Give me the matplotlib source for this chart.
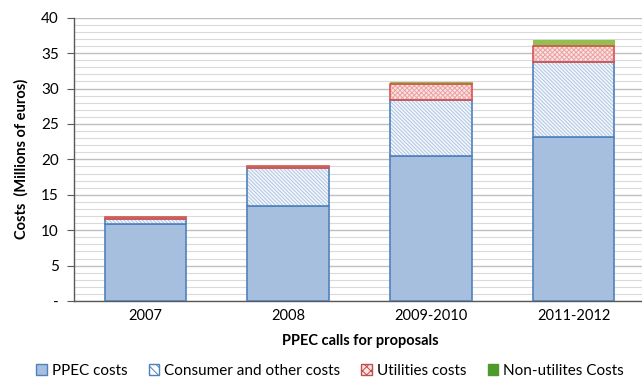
import matplotlib
matplotlib.use("Agg")
import matplotlib.pyplot as plt
from matplotlib.patches import Patch
import numpy as np

categories = ["2007", "2008", "2009-2010", "2011-2012"]
ppec = [10.9, 13.4, 20.5, 23.1]
consumer = [0.7, 5.4, 7.9, 10.6]
utilities = [0.2, 0.2, 2.2, 2.3]
non_utilities = [0.0, 0.0, 0.3, 0.8]
series_names = ["PPEC costs", "Consumer and other costs", "Utilities costs", "Non-utilites Costs"]
ytick_vals = [0, 5, 10, 15, 20, 25, 30, 35, 40]
ytick_labels = ["-", "5", "10", "15", "20", "25", "30", "35", "40"]

plt.rcParams['font.family'] = ['Lato', 'DejaVu Sans']
plt.rcParams['hatch.linewidth'] = 0.7

fig = plt.figure(figsize=(6.42, 3.86), dpi=100)
ax = fig.add_axes([74/642, 85/386, 571/642, 283.3/386])

x = np.arange(len(categories))
w = 0.57
blue_edge = "#4F81BD"
red_edge = "#D9534F"

b0 = np.zeros(len(x))
ax.bar(x, ppec, w, bottom=b0, color="#A7BFDE", edgecolor=blue_edge, linewidth=1.2, zorder=3)
b1 = b0 + np.array(ppec)
ax.bar(x, consumer, w, bottom=b1, color="#F4F7FB", edgecolor="#AFC5E2", hatch="\\" * 9, linewidth=0, zorder=3)
ax.bar(x, consumer, w, bottom=b1, fill=False, edgecolor=blue_edge, linewidth=1.2, zorder=4)
b2 = b1 + np.array(consumer)
ax.bar(x, utilities, w, bottom=b2, color="#FBE3E3", edgecolor="#EBA3A3", hatch="x" * 7, linewidth=0, zorder=3)
ax.bar(x, utilities, w, bottom=b2, fill=False, edgecolor=red_edge, linewidth=1.2, zorder=4)
b3 = b2 + np.array(utilities)
ax.bar(x, non_utilities, w, bottom=b3, color="#92BE52", edgecolor="#92BE52", linewidth=0.8, zorder=3)

ax.set_xlim(-0.5, 3.5)
ax.set_ylim(0, 40)
ax.set_yticks(ytick_vals)
ax.set_yticklabels(ytick_labels, fontsize=11)
ax.set_yticks(np.arange(0, 41, 1), minor=True)
ax.set_xticks(x)
ax.set_xticklabels(categories, fontsize=10.5)
ax.tick_params(axis='x', length=0, pad=6)
ax.tick_params(axis='y', which='major', length=5, color="#595959", pad=6)
ax.tick_params(axis='y', which='minor', length=0)
ax.grid(axis='y', which='major', color="#BFBFBF", linewidth=1.0, zorder=0)
ax.grid(axis='y', which='minor', color="#DADADA", linewidth=0.8, zorder=0)
ax.set_axisbelow(True)
for s in ["top", "right"]:
    ax.spines[s].set_visible(False)
ax.spines["left"].set_color("#595959")
ax.spines["bottom"].set_color("#595959")
ax.spines["left"].set_linewidth(1.0)
ax.spines["bottom"].set_linewidth(1.0)

ax.set_ylabel("Costs  (Millions of euros)", fontsize=10.5, fontweight='bold', labelpad=9)
fig.text(360/642, 1 - 341/386, "PPEC calls for proposals", ha='center', va='center',
         fontsize=10.5, fontweight='bold')

handles = [
    Patch(facecolor="#A7BFDE", edgecolor=blue_edge, linewidth=1.0),
    Patch(facecolor="white", edgecolor=blue_edge, hatch="\\\\\\\\", linewidth=1.0),
    Patch(facecolor="#FBE3E3", edgecolor="#C0504D", hatch="xxxx", linewidth=1.0),
    Patch(facecolor="#4E9A2A", edgecolor="#4E9A2A", linewidth=1.0),
]
fig.legend(handles, series_names, loc='center', bbox_to_anchor=(330/642, 1 - 371/386),
           ncol=4, frameon=False, fontsize=11, handlelength=0.7, handleheight=0.7,
           handletextpad=0.3, columnspacing=1.4)

fig.savefig("out.png", dpi=100)
